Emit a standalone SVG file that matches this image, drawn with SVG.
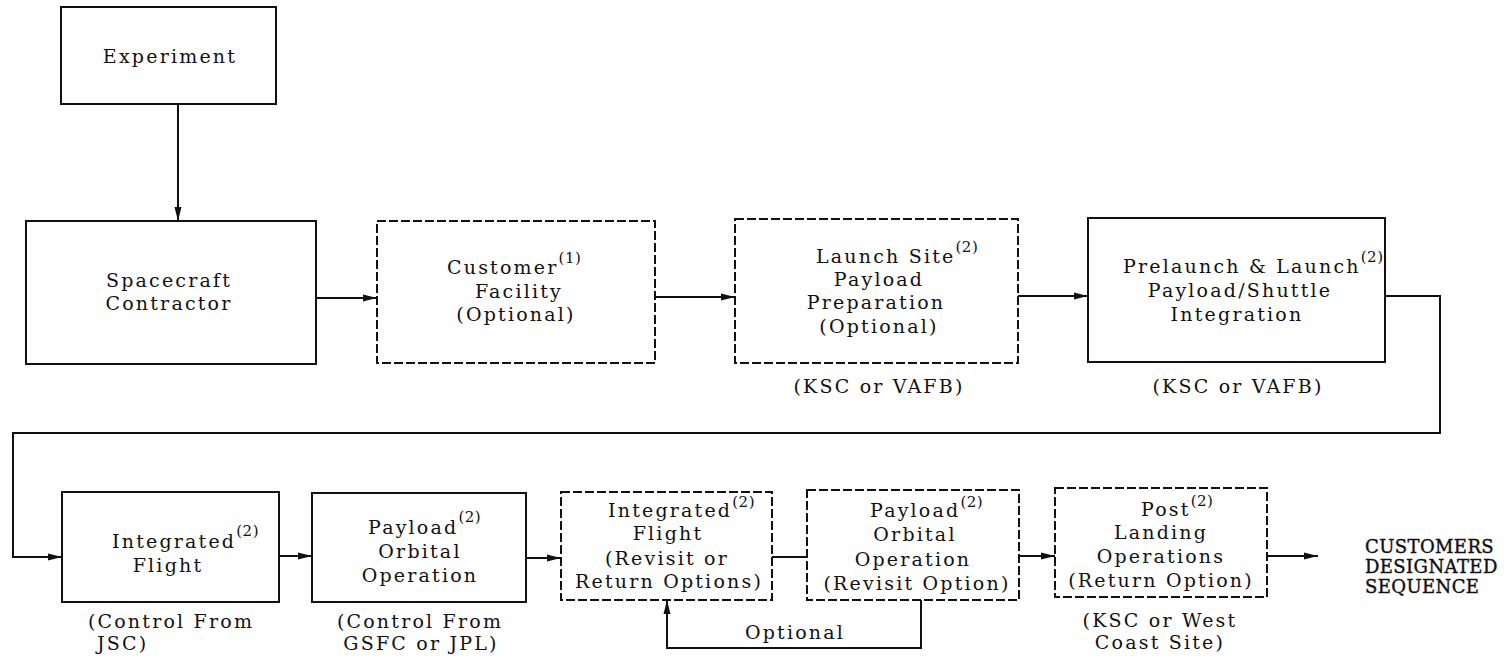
<svg xmlns="http://www.w3.org/2000/svg" width="1512" height="659" viewBox="0 0 1512 659">
<defs>
<marker id="ah" markerUnits="userSpaceOnUse" markerWidth="15" markerHeight="9" refX="14" refY="4.5" orient="auto">
<path d="M0,1 L14,4.5 L0,8 z" fill="#111"/>
</marker>
<style>
.box{fill:#fff;stroke:#111;stroke-width:2}
.dash{stroke-dasharray:9 3}
.t{font-family:"DejaVu Serif","Liberation Serif",serif;font-size:19px;letter-spacing:2.2px;fill:#111}
.c{text-anchor:middle}
.sup{font-size:15px;letter-spacing:0.5px}
.big{font-family:"DejaVu Serif","Liberation Serif",serif;font-size:18px;letter-spacing:0.4px;fill:#111;stroke:#111;stroke-width:0.4}
.ln{fill:none;stroke:#111;stroke-width:2}
</style>
</defs>
<rect width="1512" height="659" fill="#fff"/>

<g id="connectors">
<path class="ln" d="M178,104 V221" marker-end="url(#ah)"/>
<path class="ln" d="M316,298 H377" marker-end="url(#ah)"/>
<path class="ln" d="M655,297 H735" marker-end="url(#ah)"/>
<path class="ln" d="M1018,296 H1088" marker-end="url(#ah)"/>
<path class="ln" d="M1385,296 H1440 V433 H13 V557 H62" marker-end="url(#ah)"/>
<path class="ln" d="M279,556 H312" marker-end="url(#ah)"/>
<path class="ln" d="M526,558 H561" marker-end="url(#ah)"/>
<path class="ln" d="M807,557 H772"/>
<path class="ln" d="M921,600 V648 H667 V600" marker-end="url(#ah)"/>
<path class="ln" d="M1019,556 H1055" marker-end="url(#ah)"/>
<path class="ln" d="M1267,556 H1318" marker-end="url(#ah)"/>
<text class="t c" x="795" y="639">Optional</text>
</g>

<g id="experiment">
<rect class="box" x="61" y="7" width="215" height="97"/>
<text class="t c" x="170" y="63">Experiment</text>
</g>

<g id="spacecraft-contractor">
<rect class="box" x="26" y="221" width="290" height="143"/>
<text class="t c" x="169" y="287">Spacecraft</text>
<text class="t c" x="169" y="310">Contractor</text>
</g>

<g id="customer-facility">
<rect class="box dash" x="377" y="221" width="278" height="142"/>
<text class="t" x="447" y="274">Customer<tspan class="sup" dy="-11">(1)</tspan></text>
<text class="t c" x="519" y="298">Facility</text>
<text class="t c" x="516" y="321">(Optional)</text>
</g>

<g id="launch-site">
<rect class="box dash" x="735" y="219" width="283" height="144"/>
<text class="t" x="816" y="263">Launch Site<tspan class="sup" dy="-11">(2)</tspan></text>
<text class="t c" x="879" y="286">Payload</text>
<text class="t c" x="876" y="309">Preparation</text>
<text class="t c" x="879" y="333">(Optional)</text>
<text class="t c" x="879" y="393">(KSC or VAFB)</text>
</g>

<g id="prelaunch-launch">
<rect class="box" x="1088" y="218" width="297" height="144"/>
<text class="t" x="1123" y="273">Prelaunch &amp; Launch<tspan class="sup" dy="-11">(2)</tspan></text>
<text class="t c" x="1240" y="297">Payload/Shuttle</text>
<text class="t c" x="1237" y="321">Integration</text>
<text class="t c" x="1238" y="393">(KSC or VAFB)</text>
</g>

<g id="integrated-flight">
<rect class="box" x="62" y="492" width="217" height="110"/>
<text class="t" x="112" y="548">Integrated<tspan class="sup" dy="-12">(2)</tspan></text>
<text class="t c" x="168" y="572">Flight</text>
<text class="t c" x="171" y="628">(Control From</text>
<text class="t" x="97" y="650">JSC)</text>
</g>

<g id="payload-orbital-operation">
<rect class="box" x="312" y="493" width="214" height="109"/>
<text class="t" x="368" y="534">Payload<tspan class="sup" dy="-12">(2)</tspan></text>
<text class="t c" x="420" y="558">Orbital</text>
<text class="t c" x="420" y="582">Operation</text>
<text class="t c" x="420" y="628">(Control From</text>
<text class="t c" x="421" y="650">GSFC or JPL)</text>
</g>

<g id="integrated-flight-revisit">
<rect class="box dash" x="561" y="492" width="211" height="108"/>
<text class="t" x="608" y="517">Integrated<tspan class="sup" dy="-10">(2)</tspan></text>
<text class="t c" x="668" y="540">Flight</text>
<text class="t c" x="667" y="565">(Revisit or</text>
<text class="t c" x="669" y="588">Return Options)</text>
</g>

<g id="payload-orbital-revisit">
<rect class="box dash" x="807" y="490" width="212" height="110"/>
<text class="t" x="870" y="517">Payload<tspan class="sup" dy="-10">(2)</tspan></text>
<text class="t c" x="915" y="541">Orbital</text>
<text class="t c" x="913" y="566">Operation</text>
<text class="t c" x="917" y="590">(Revisit Option)</text>
</g>

<g id="post-landing">
<rect class="box dash" x="1055" y="488" width="212" height="109"/>
<text class="t" x="1141" y="516">Post<tspan class="sup" dy="-10">(2)</tspan></text>
<text class="t c" x="1161" y="539">Landing</text>
<text class="t c" x="1161" y="563">Operations</text>
<text class="t c" x="1161" y="587">(Return Option)</text>
<text class="t c" x="1160" y="627">(KSC or West</text>
<text class="t c" x="1160" y="649">Coast Site)</text>
</g>

<g id="customers-sequence">
<text class="big" x="1365" y="553">CUSTOMERS</text>
<text class="big" x="1365" y="573">DESIGNATED</text>
<text class="big" x="1365" y="593">SEQUENCE</text>
</g>
</svg>
